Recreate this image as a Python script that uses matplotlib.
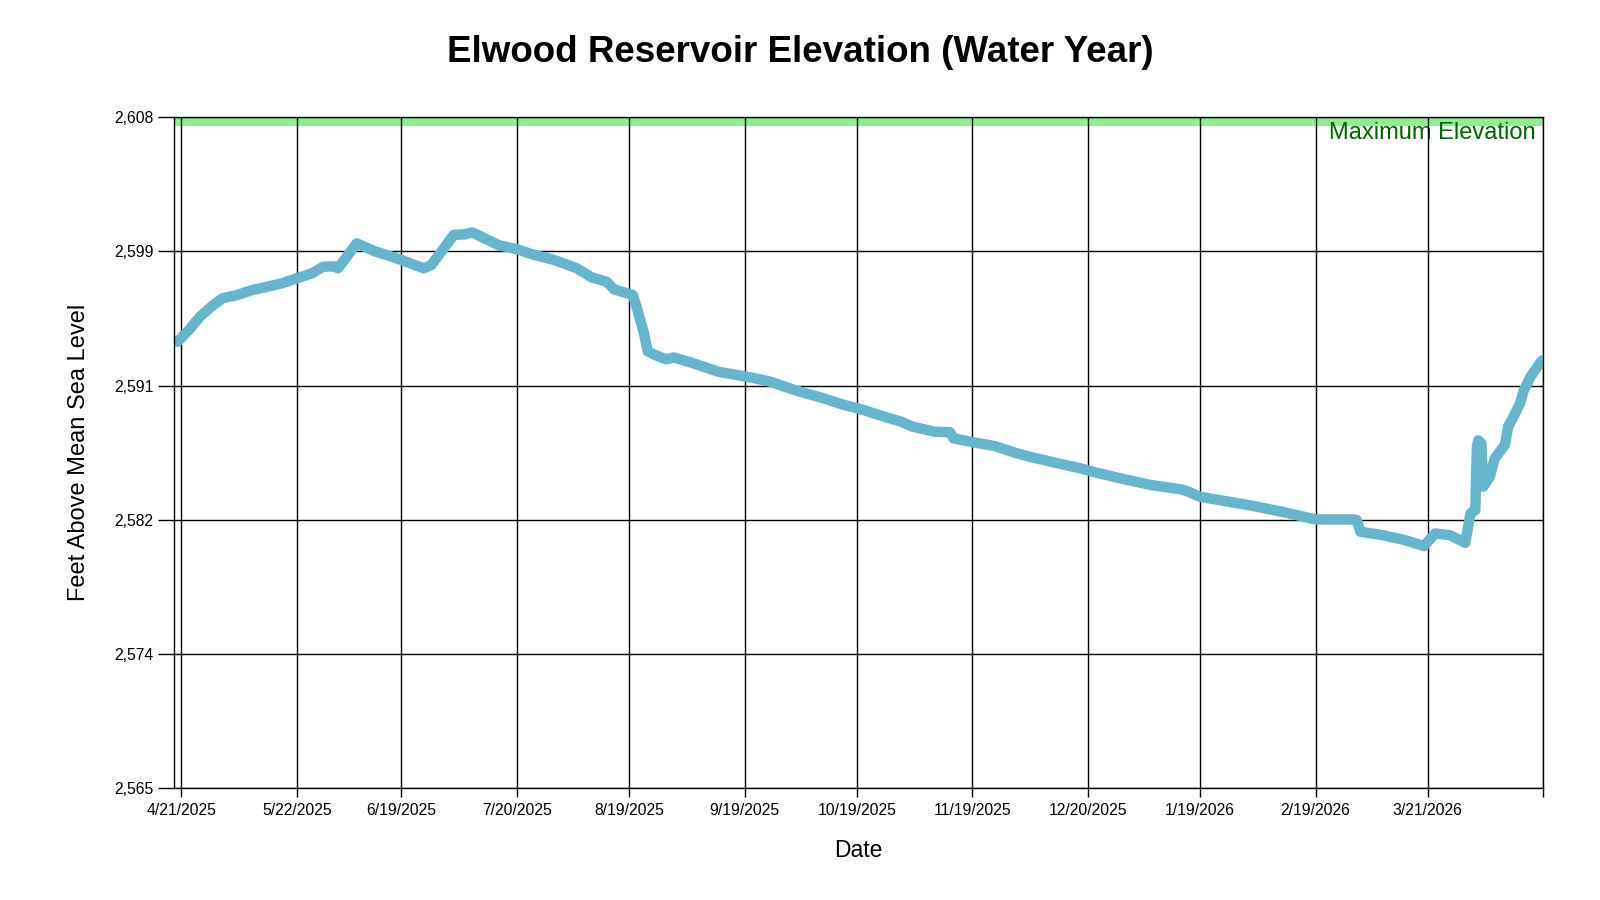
import matplotlib
matplotlib.use("Agg")
import matplotlib.pyplot as plt
import pandas as pd

plt.rcParams['font.family'] = ['Liberation Sans', 'DejaVu Sans']

# elevation readings (feet above mean sea level)
dates = [
    "2025-04-20", "2025-04-23", "2025-04-26", "2025-04-29", "2025-05-02",
    "2025-05-06", "2025-05-10", "2025-05-14", "2025-05-18", "2025-05-22",
    "2025-05-26", "2025-05-29", "2025-06-01", "2025-06-02", "2025-06-07",
    "2025-06-12", "2025-06-16", "2025-06-19", "2025-06-25", "2025-06-27",
    "2025-07-03", "2025-07-06", "2025-07-08", "2025-07-15", "2025-07-20",
    "2025-07-24", "2025-07-30", "2025-08-05", "2025-08-09", "2025-08-13",
    "2025-08-15", "2025-08-20", "2025-08-21", "2025-08-23", "2025-08-24",
    "2025-08-26", "2025-08-29", "2025-08-31", "2025-09-04", "2025-09-08",
    "2025-09-12", "2025-09-18", "2025-09-21", "2025-09-26", "2025-09-29",
    "2025-10-04", "2025-10-10", "2025-10-15", "2025-10-21", "2025-10-26",
    "2025-10-31", "2025-11-03", "2025-11-09", "2025-11-13", "2025-11-14",
    "2025-11-20", "2025-11-25", "2025-12-01", "2025-12-05", "2025-12-12",
    "2025-12-18", "2025-12-23", "2025-12-30", "2026-01-06", "2026-01-14",
    "2026-01-16", "2026-01-19", "2026-02-01", "2026-02-10", "2026-02-19",
    "2026-03-01", "2026-03-02", "2026-03-03", "2026-03-09", "2026-03-15",
    "2026-03-20", "2026-03-23", "2026-03-27", "2026-03-31 02:00",
    "2026-04-01 12:00", "2026-04-02 19:00", "2026-04-03 05:00",
    "2026-04-03 14:00", "2026-04-04 10:00", "2026-04-04 22:00",
    "2026-04-06 17:00", "2026-04-08", "2026-04-10 17:00", "2026-04-11 14:00",
    "2026-04-13", "2026-04-14 19:00", "2026-04-15 17:00", "2026-04-17 12:00",
    "2026-04-20 15:00",
]
elevation = [
    2593.62, 2594.36, 2595.22, 2595.86, 2596.40,
    2596.61, 2596.93, 2597.14, 2597.36, 2597.68,
    2598.00, 2598.42, 2598.45, 2598.32, 2599.92,
    2599.40, 2599.10, 2598.85, 2598.32, 2598.53,
    2600.46, 2600.50, 2600.62, 2599.81, 2599.54,
    2599.22, 2598.85, 2598.32, 2597.74, 2597.46,
    2596.97, 2596.61, 2595.86, 2594.15, 2593.00,
    2592.76, 2592.49, 2592.61, 2592.33, 2592.01,
    2591.69, 2591.44, 2591.31, 2591.05, 2590.79,
    2590.40, 2590.00, 2589.61, 2589.23, 2588.84,
    2588.49, 2588.17, 2587.85, 2587.81, 2587.42,
    2587.14, 2586.93, 2586.46, 2586.21, 2585.82,
    2585.50, 2585.18, 2584.79, 2584.43, 2584.15,
    2584.00, 2583.68, 2583.15, 2582.72, 2582.23,
    2582.23, 2582.19, 2581.44, 2581.22, 2580.90,
    2580.52, 2581.33, 2581.22, 2580.73,
    2582.62, 2582.83, 2586.90,
    2587.30, 2587.10, 2584.33,
    2584.97, 2586.15, 2587.00, 2588.18,
    2588.81, 2589.67, 2590.45, 2591.35,
    2592.42,
]

tick_dates = ["2025-04-21", "2025-05-22", "2025-06-19", "2025-07-20",
              "2025-08-19", "2025-09-19", "2025-10-19", "2025-11-19",
              "2025-12-20", "2026-01-19", "2026-02-19", "2026-03-21",
              "2026-04-21"]
tick_labels = ["4/21/2025", "5/22/2025", "6/19/2025", "7/20/2025",
               "8/19/2025", "9/19/2025", "10/19/2025", "11/19/2025",
               "12/20/2025", "1/19/2026", "2/19/2026", "3/21/2026", ""]
y_ticks = [2565, 2573.6, 2582.2, 2590.8, 2599.4, 2608]
max_elevation = 2608

x = pd.to_datetime(dates, format="mixed")
xt = pd.to_datetime(tick_dates)

fig = plt.figure(figsize=(16, 9), dpi=100)
ax = fig.add_axes([0.10875, 0.1241, 0.8558, 0.7456])

ax.axhspan(max_elevation - 0.55, max_elevation, color="#90EE90", lw=0, zorder=1)
ax.text(0.9947, 2606.62, "Maximum Elevation", transform=ax.get_yaxis_transform(),
        ha="right", va="baseline", fontsize=17, color="#006400", zorder=1)

ax.plot(x, elevation, color="#64B5CD", lw=7.5, solid_capstyle="round",
        solid_joinstyle="round", zorder=2)

ax.set_xlim(pd.Timestamp("2025-04-19 01:00"), pd.Timestamp("2026-04-21"))
ax.set_ylim(2565, 2608)
ax.set_xticks(xt)
ax.set_xticklabels(tick_labels)
ax.set_yticks(y_ticks)
ax.set_yticklabels([f"{round(v):,}" for v in y_ticks])

ax.grid(True, color="black", lw=1.0)
ax.tick_params(axis="x", length=6.5, width=1.0, pad=4.3, labelsize=11.3)
ax.tick_params(axis="y", length=11.5, width=1.0, pad=3.4, labelsize=11.3)
for s in ax.spines.values():
    s.set_color("black")
    s.set_linewidth(1.0)

ax.set_xlabel("Date", fontsize=16.5, va="baseline")
ax.xaxis.set_label_coords(0.5, -0.102)
ax.set_ylabel("Feet Above Mean Sea Level", fontsize=17, va="center")
ax.yaxis.set_label_coords(-0.0693, 0.5)

fig.text(0.5, 0.9307, "Elwood Reservoir Elevation (Water Year)", ha="center",
         va="baseline", fontsize=26.5, fontweight="bold")

fig.savefig("out.png", dpi=100)
